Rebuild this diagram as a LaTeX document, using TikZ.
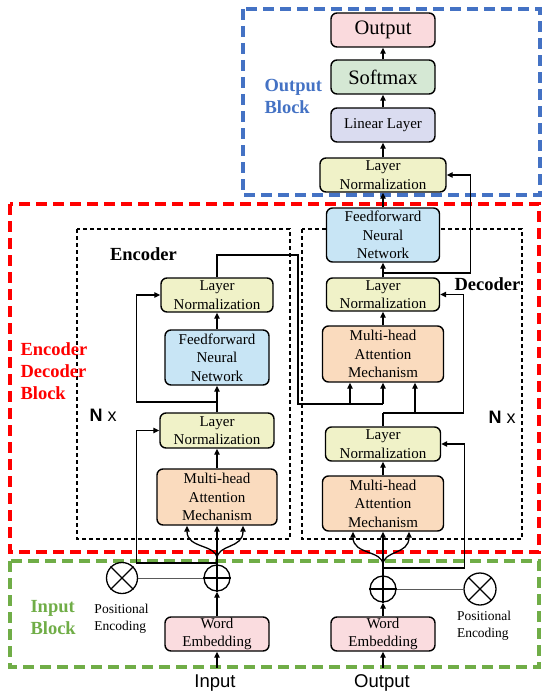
\documentclass[tikz,border=0pt]{standalone}
\usepackage{fontspec}
\setmainfont{Liberation Serif}
\newfontfamily\sansf{Liberation Sans}
\usetikzlibrary{arrows.meta,calc}
\definecolor{cOut}{HTML}{FADADD}
\definecolor{cSoft}{HTML}{D5E8D4}
\definecolor{cLin}{HTML}{DADCF0}
\definecolor{cLN}{HTML}{F0F2C8}
\definecolor{cFFN}{HTML}{C8E5F5}
\definecolor{cMHA}{HTML}{FADBBE}
\definecolor{cWE}{HTML}{FADCDF}
\definecolor{cBlue}{HTML}{4472C4}
\definecolor{cRed}{HTML}{FF0000}
\definecolor{cGreen}{HTML}{70AD47}
\tikzset{
  box/.style={draw, rounded corners=6pt, line width=1.4pt, align=center, inner sep=0pt,
    font=\fontsize{15}{18.5}\selectfont},
  arr/.style={-{Triangle[length=6pt,width=5.5pt]}, line width=1.3pt},
  ln/.style={line width=1.3pt},
  bigdash/.style={line width=3.5pt, dash pattern=on 11pt off 6pt},
  thindash/.style={line width=1.1pt, dash pattern=on 4pt off 3pt},
  circ/.style={circle, draw, line width=1.3pt, inner sep=0pt},
  blocklabel/.style={font=\fontsize{18.5}{22}\selectfont\bfseries, align=left, anchor=west},
  sublabel/.style={font=\fontsize{18.5}{22}\selectfont\bfseries},
  pelabel/.style={font=\fontsize{13.5}{17}\selectfont, align=left},
  iolabel/.style={font=\sansf\fontsize{18.5}{22}\selectfont},
  nlabel/.style={font=\sansf\fontsize{18}{22}\selectfont},
}
\begin{document}
\begin{tikzpicture}[x=1pt,y=-1pt]
\useasboundingbox (0,0) rectangle (550,698);
% dashed blocks
\draw[bigdash, cBlue] (243,9) rectangle (540,195);
\draw[bigdash, cRed] (10,204) rectangle (539,552);
\draw[bigdash, cGreen] (10,561) rectangle (539,667);
\draw[thindash] (77,229) rectangle (290,539);
\draw[thindash] (302,229) rectangle (522,539);
% block labels
\node[blocklabel, text=cBlue] (lblOut) at (261,96) {Output\\Block};
\node[blocklabel, text=cRed] (lblED) at (17,371) {Encoder\\Decoder\\Block};
\node[blocklabel, text=cGreen] (lblIn) at (27,618) {Input\\Block};
\node[sublabel] (lblEnc) at (143.5,254) {Encoder};
\node[sublabel] (lblDec) at (487.5,284) {Decoder};
\node[nlabel] (nEnc) at (103,415) {\textbf{N} x};
\node[nlabel] (nDec) at (502,417) {\textbf{N} x};
% output block
\node[box, fill=cOut, minimum width=104pt, minimum height=34pt, font=\fontsize{20.5}{22}\selectfont] (out) at (383,30) {Output};
\node[box, fill=cSoft, minimum width=104pt, minimum height=34pt, font=\fontsize{20.5}{22}\selectfont] (soft) at (383,77) {Softmax};
\node[box, fill=cLin, minimum width=104pt, minimum height=34pt] (lin) at (383,125) {Linear Layer};
\node[box, fill=cLN, minimum width=126pt, minimum height=34pt] (lnTop) at (383,175) {Layer\\Normalization};
% decoder
\node[box, fill=cFFN, minimum width=113pt, minimum height=54pt] (dFFN) at (383,235) {Feedforward\\Neural\\Network};
\node[box, fill=cLN, minimum width=113pt, minimum height=33pt] (dLN1) at (383,294.5) {Layer\\Normalization};
\node[box, fill=cMHA, minimum width=121pt, minimum height=56pt] (dMHA1) at (383,354) {Multi-head\\Attention\\Mechanism};
\node[box, fill=cLN, minimum width=115pt, minimum height=34pt] (dLN2) at (383,444) {Layer\\Normalization};
\node[box, fill=cMHA, minimum width=121pt, minimum height=55pt] (dMHA2) at (383,503.5) {Multi-head\\Attention\\Mechanism};
\node[circ, minimum size=26pt] (dplus) at (383,589) {};
\node[circ, minimum size=32pt] (dcross) at (480,589) {};
\node[box, fill=cWE, minimum width=104pt, minimum height=34pt] (dWE) at (383,634) {Word\\Embedding};
\node[pelabel] (dPE) at (484,626) {Positional\\Encoding};
\node[iolabel] (dIn) at (382,683) {Output};
% encoder
\node[box, fill=cLN, minimum width=112pt, minimum height=34pt] (eLN1) at (217,295) {Layer\\Normalization};
\node[box, fill=cFFN, minimum width=104pt, minimum height=55pt] (eFFN) at (217,357.5) {Feedforward\\Neural\\Network};
\node[box, fill=cLN, minimum width=114pt, minimum height=35pt] (eLN2) at (217,430.5) {Layer\\Normalization};
\node[box, fill=cMHA, minimum width=120pt, minimum height=56pt] (eMHA) at (217,497) {Multi-head\\Attention\\Mechanism};
\node[circ, minimum size=26pt] (eplus) at (217,578) {};
\node[circ, minimum size=31pt] (ecross) at (122,578) {};
\node[box, fill=cWE, minimum width=104pt, minimum height=34pt] (eWE) at (217,634) {Word\\Embedding};
\node[pelabel] (ePE) at (121.5,618.5) {Positional\\Encoding};
\node[iolabel] (eIn) at (215,683) {Input};
% circle symbols
\draw[ln] (eplus.north) -- (eplus.south) (eplus.west) -- (eplus.east);
\draw[ln] (dplus.north) -- (dplus.south) (dplus.west) -- (dplus.east);
\draw[ln] (ecross.north east) -- (ecross.south west) (ecross.north west) -- (ecross.south east);
\draw[ln] (dcross.north east) -- (dcross.south west) (dcross.north west) -- (dcross.south east);
\draw[gray!70!black, line width=0.9pt] (ecross.east) -- (eplus.west);
\draw[gray!70!black, line width=0.9pt] (dplus.east) -- (dcross.west);
% coordinates
\coordinate (eInTop) at (217,668);
\coordinate (dInTop) at (383,668);
\coordinate (eF) at (217,559);
\coordinate (eR1) at (217,563);
\coordinate (eR2) at (217,402);
\coordinate (eo1) at (298,255);
\coordinate (eo2) at (298,404);
\coordinate (eo3) at (350,404);
\coordinate (eo4) at (383,404);
\coordinate (dF) at (383,565);
\coordinate (dR1) at (383,568);
\coordinate (dR2) at (383,413);
\coordinate (dR2b) at (415,413);
\coordinate (dR3) at (383,273);
% encoder connectors
\draw[arr] (eInTop) -- (eWE.south);
\draw[arr] (eWE.north) -- (eplus.south);
\draw[ln] (eplus.north) -- (eF);
\draw[arr] (eF) -- (eMHA.south);
\draw[arr] (eF) .. controls (217,544) and (187,549) .. ($(eMHA.south)+(-30,0)$);
\draw[arr] (eF) .. controls (217,544) and (243,549) .. ($(eMHA.south)+(26,0)$);
\draw[arr] (eR1) -| ($(eLN2.west)+(-23,0)$) -- (eLN2.west);
\draw[arr] (eMHA.north) -- (eLN2.south);
\draw[arr] (eLN2.north) -- (eFFN.south);
\draw[arr] (eR2) -| ($(eLN1.west)+(-24,0)$) -- (eLN1.west);
\draw[arr] (eFFN.north) -- (eLN1.south);
\draw[ln] (eLN1.north) |- (eo1) -- (eo2) -- (eo4);
\draw[arr] (eo3) -- (dMHA1.south -| eo3);
\draw[arr] (eo4) -- (dMHA1.south);
% decoder connectors
\draw[arr] (dInTop) -- (dWE.south);
\draw[arr] (dWE.north) -- (dplus.south);
\draw[ln] (dplus.north) -- (dF);
\draw[arr] (dF) -- (dMHA2.south);
\draw[arr] (dF) .. controls (383,550) and (353,555) .. ($(dMHA2.south)+(-30,0)$);
\draw[arr] (dF) .. controls (383,550) and (409,555) .. ($(dMHA2.south)+(26,0)$);
\draw[arr] (dR1) -| ($(dLN2.east)+(23,0)$) -- (dLN2.east);
\draw[arr] (dMHA2.north) -- (dLN2.south);
\draw[ln] (dLN2.north) -- (dR2);
\draw[arr] (dR2) -| ($(dLN1.east)+(23,0)$) -- (dLN1.east);
\draw[arr] (dR2b) -- (dMHA1.south -| dR2b);
\draw[arr] (dMHA1.north) -- (dLN1.south);
\draw[arr] (dLN1.north) -- (dFFN.south);
\draw[arr] (dR3) -| ($(lnTop.east)+(24,0)$) -- (lnTop.east);
\draw[arr] (dFFN.north) -- (lnTop.south);
\draw[arr] (lnTop.north) -- (lin.south);
\draw[arr] (lin.north) -- (soft.south);
\draw[arr] (soft.north) -- (out.south);
\end{tikzpicture}
\end{document}
